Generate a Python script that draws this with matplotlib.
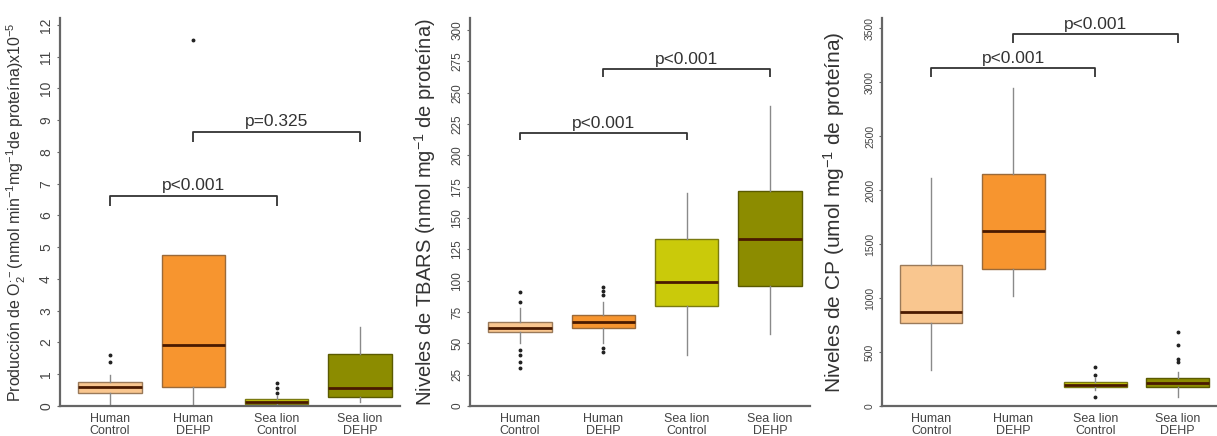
import matplotlib
matplotlib.use('Agg')
import matplotlib.pyplot as plt

plt.rcParams['font.family'] = ['Liberation Sans', 'DejaVu Sans']
plt.rcParams['mathtext.default'] = 'regular'

# groups and colours
groups = ['Human\nControl', 'Human\nDEHP', 'Sea lion\nControl', 'Sea lion\nDEHP']
colors = ['#F9C68F', '#F7952F', '#CACA0A', '#8C8C00']
edge_colors = ['#9A7A5A', '#9A6A3A', '#7A7A10', '#5A5A00']

# panel 1: O2- production (x10^-5)
o2_q1 = [0.41, 0.61, 0.06, 0.29]
o2_med = [0.61, 1.92, 0.12, 0.58]
o2_q3 = [0.76, 4.76, 0.21, 1.63]
o2_lo = [0.0, 0.0, 0.0, 0.14]
o2_hi = [0.98, 4.76, 0.32, 2.50]
o2_fliers = [[1.40, 1.61], [11.53], [0.40, 0.56, 0.71], []]

# panel 2: TBARS
tb_q1 = [58.8, 62.0, 79.8, 95.7]
tb_med = [62.0, 67.3, 99.2, 133.0]
tb_q3 = [67.3, 72.6, 133.0, 171.8]
tb_lo = [50.0, 50.0, 40.7, 57.2]
tb_hi = [78.0, 83.2, 169.7, 239.4]
tb_fliers = [[30.1, 35.4, 40.7, 44.7, 83.2, 91.2], [43.3, 46.0, 88.5, 92.0, 95.0], [], []]

# panel 3: CP
cp_q1 = [771, 1266, 173, 173]
cp_med = [873, 1623, 199, 210]
cp_q3 = [1306, 2148, 225, 256]
cp_lo = [333, 1019, 150, 86]
cp_hi = [2108, 2942, 260, 318]
cp_fliers = [[], [], [86, 287, 364], [407, 435, 565, 682]]

# significance brackets: (from, to, height, tick, label)
o2_brackets = [(1, 3, 6.62, 0.32, 'p<0.001'), (2, 4, 8.62, 0.32, 'p=0.325')]
tb_brackets = [(1, 3, 217.6, 5.5, 'p<0.001'), (2, 4, 268.9, 6.0, 'p<0.001')]
cp_brackets = [(1, 3, 3126, 77, 'p<0.001'), (2, 4, 3441, 83, 'p<0.001')]

fig = plt.figure(figsize=(12.17, 4.36), dpi=100)
fig.patch.set_facecolor('white')

panels = [
    dict(pos=[60 / 1217, 30 / 436, 340 / 1217, 388 / 436], ylim=12.22, ticks=range(0, 13),
         q1=o2_q1, med=o2_med, q3=o2_q3, lo=o2_lo, hi=o2_hi, fl=o2_fliers, br=o2_brackets,
         ylabel='Producción de O$_2^{\\cdot-}$(nmol min$^{-1}$mg$^{-1}$de proteína)x10$^{-5}$',
         ylsize=11.5, ticksize=10, lx=-0.094),
    dict(pos=[470 / 1217, 30 / 436, 340 / 1217, 388 / 436], ylim=309.6, ticks=range(0, 301, 25),
         q1=tb_q1, med=tb_med, q3=tb_q3, lo=tb_lo, hi=tb_hi, fl=tb_fliers, br=tb_brackets,
         ylabel='Niveles de TBARS (nmol mg$^{-1}$ de proteína)',
         ylsize=14.5, ticksize=8.5, lx=-0.094),
    dict(pos=[882 / 1217, 30 / 436, 335 / 1217, 388 / 436], ylim=3593, ticks=range(0, 3501, 500),
         q1=cp_q1, med=cp_med, q3=cp_q3, lo=cp_lo, hi=cp_hi, fl=cp_fliers, br=cp_brackets,
         ylabel='Niveles de CP (umol mg$^{-1}$ de proteína)',
         ylsize=15, ticksize=7.5, lx=-0.105),
]

for p in panels:
    ax = fig.add_axes(p['pos'])
    stats = []
    for i in range(4):
        stats.append(dict(q1=p['q1'][i], med=p['med'][i], q3=p['q3'][i],
                          whislo=p['lo'][i], whishi=p['hi'][i], fliers=p['fl'][i]))
    bp = ax.bxp(stats, positions=[1, 2, 3, 4], widths=0.76, patch_artist=True,
                showcaps=False,
                whiskerprops=dict(color='#8a8a8a', linewidth=1.0),
                medianprops=dict(color='#4a1a00', linewidth=2.0),
                flierprops=dict(marker='o', markersize=1.8, markerfacecolor='#222222',
                                markeredgecolor='#222222', linestyle='none'))
    for box, fc, ec in zip(bp['boxes'], colors, edge_colors):
        box.set_facecolor(fc)
        box.set_edgecolor(ec)
        box.set_linewidth(1.0)
        box.set_zorder(2)

    for a, b, h, t, lab in p['br']:
        ax.plot([a, a, b, b], [h - t, h, h, h - t], color='#333333', linewidth=1.3,
                solid_capstyle='butt')
        ax.text((a + b) / 2, h + t * 0.3, lab, ha='center', va='bottom',
                fontsize=12.5, color='#333333')

    ax.set_xlim(0.4, 4.48)
    ax.set_ylim(0, p['ylim'])
    ax.set_yticks(list(p['ticks']))
    ax.set_xticks([1, 2, 3, 4])
    ax.set_xticklabels(groups, fontsize=9, color='#444444', linespacing=1.05)
    ax.tick_params(axis='x', length=0, pad=5)
    ax.tick_params(axis='y', length=2, width=0.8, color='#666666', pad=3,
                   labelsize=p['ticksize'], labelcolor='#444444', labelrotation=90)
    for lab in ax.get_yticklabels():
        lab.set_va('center')
    for s in ['top', 'right']:
        ax.spines[s].set_visible(False)
    for s in ['left', 'bottom']:
        ax.spines[s].set_color('#666666')
        ax.spines[s].set_linewidth(1.6)
    ax.set_ylabel(p['ylabel'], fontsize=p['ylsize'], color='#333333')
    ax.yaxis.set_label_coords(p['lx'], 0.5)

fig.savefig('out.png', dpi=100, facecolor='white')
